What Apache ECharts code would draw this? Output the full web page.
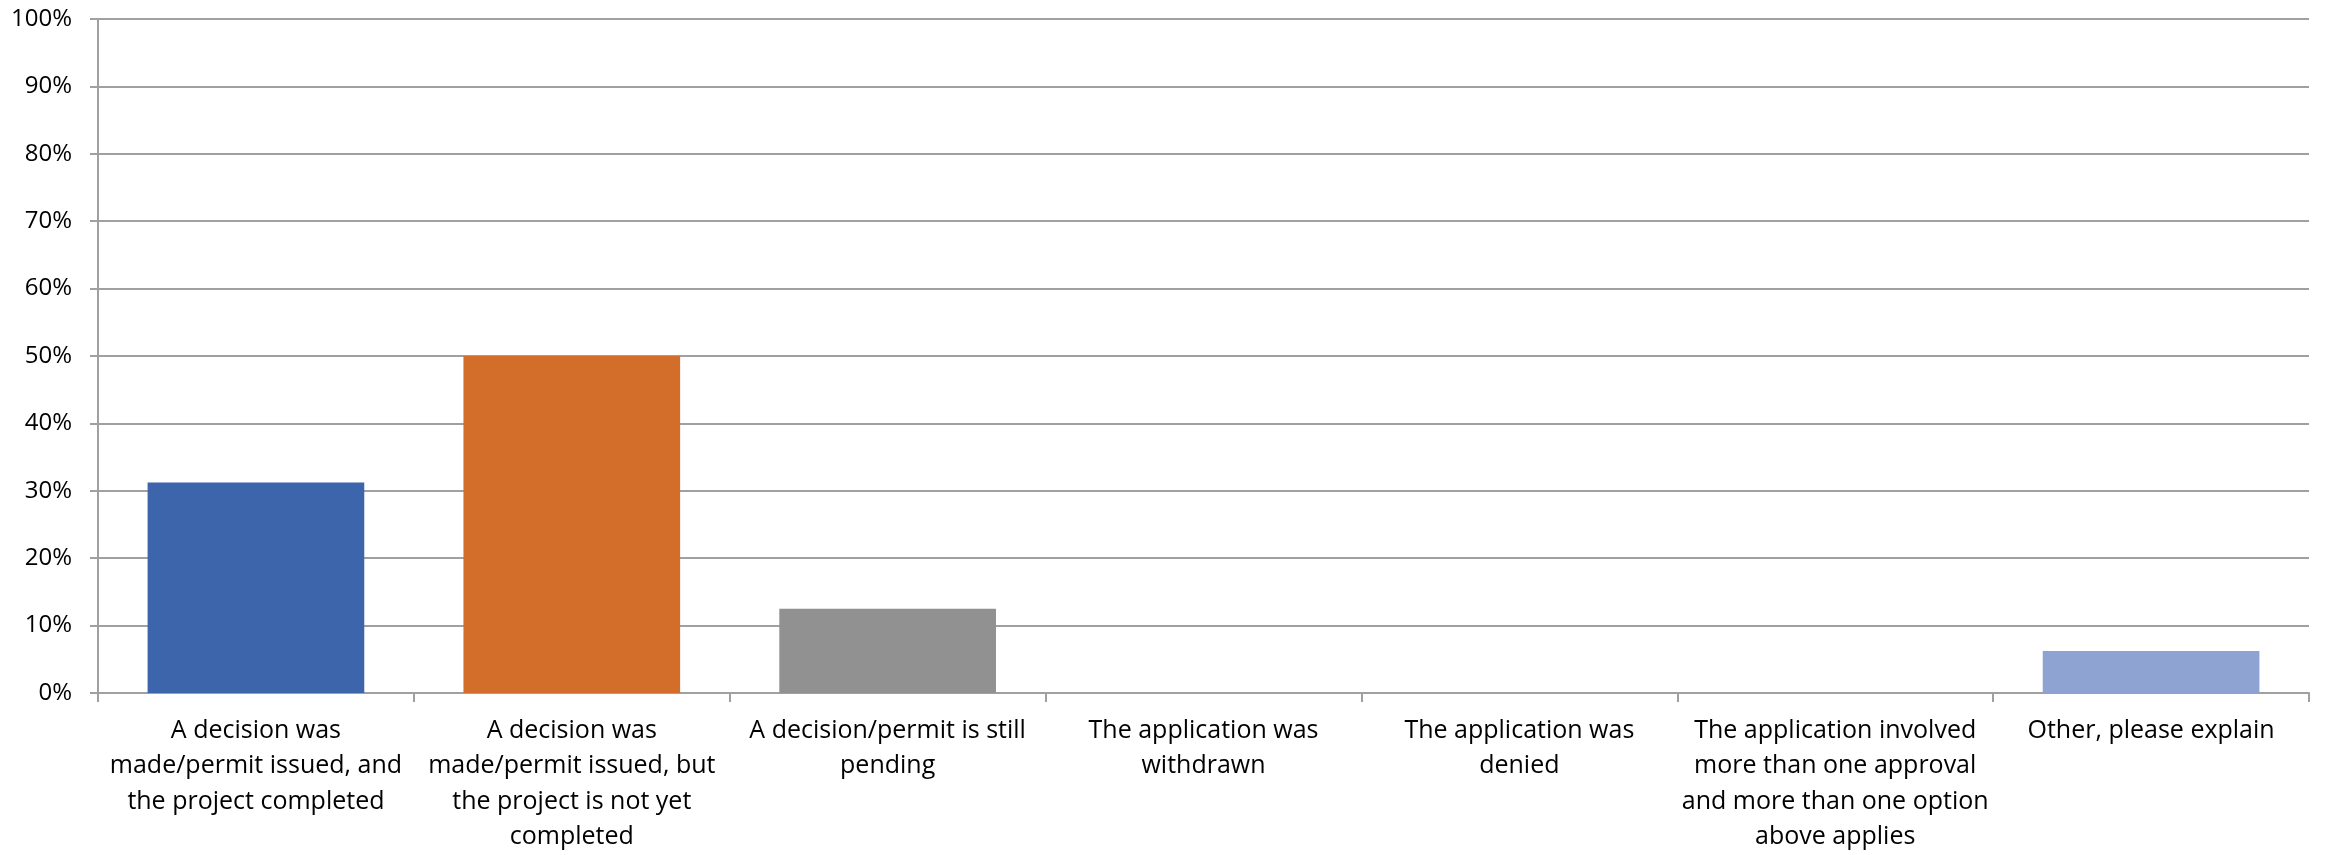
<!DOCTYPE html>
<html>
<head>
<meta charset="utf-8">
<script src="https://cdn.jsdelivr.net/npm/echarts@6/dist/echarts.min.js"></script>
<style>html,body{margin:0;padding:0;background:#fff}#c{width:2326px;height:855px}</style>
</head>
<body>
<div id="c"></div>
<script>
const categories = [
  "A decision was\nmade/permit issued, and\nthe project completed",
  "A decision was\nmade/permit issued, but\nthe project is not yet\ncompleted",
  "A decision/permit is still\npending",
  "The application was\nwithdrawn",
  "The application was\ndenied",
  "The application involved\nmore than one approval\nand more than one option\nabove applies",
  "Other, please explain"
];
const values = [0.3125, 0.5, 0.125, 0, 0, 0, 0.0625];
const barColors = ["#3C65AC", "#D36E2A", "#919191", "#4472C4", "#4472C4", "#4472C4", "#8FA3D3"];
const yTicks = [0, 0.1, 0.2, 0.3, 0.4, 0.5, 0.6, 0.7, 0.8, 0.9, 1.0];

const font = "'Open Sans', 'Noto Sans', sans-serif";
const chart = echarts.init(document.getElementById('c'), null, {renderer: 'canvas'});
chart.setOption({
  animation: false,
  backgroundColor: '#fff',
  grid: {left: 98, right: 17, top: 19, bottom: 157, containLabel: false},
  xAxis: {
    type: 'category',
    data: categories,
    axisLine: {show: true, lineStyle: {color: '#A0A0A0', width: 2}},
    axisTick: {show: true, length: 9, alignWithLabel: false, lineStyle: {color: '#A0A0A0', width: 2}},
    axisLabel: {interval: 0, margin: 20, color: '#000', fontFamily: font, fontSize: 25, lineHeight: 35.5, align: 'center'}
  },
  yAxis: {
    type: 'value',
    min: yTicks[0],
    max: yTicks[yTicks.length - 1],
    interval: 0.1,
    axisLine: {show: true, lineStyle: {color: '#A0A0A0', width: 2}},
    axisTick: {show: true, length: 8, lineStyle: {color: '#A0A0A0', width: 2}},
    splitLine: {show: true, lineStyle: {color: '#A0A0A0', width: 2}},
    axisLabel: {margin: 26, color: '#000', fontFamily: font, fontSize: 24,
      formatter: v => Math.round(v * 100) + '%'}
  },
  series: [{
    type: 'bar',
    barWidth: '68.6%',
    data: values.map((v, i) => ({value: v, itemStyle: {color: barColors[i]}}))
  }]
});
</script>
</body>
</html>
